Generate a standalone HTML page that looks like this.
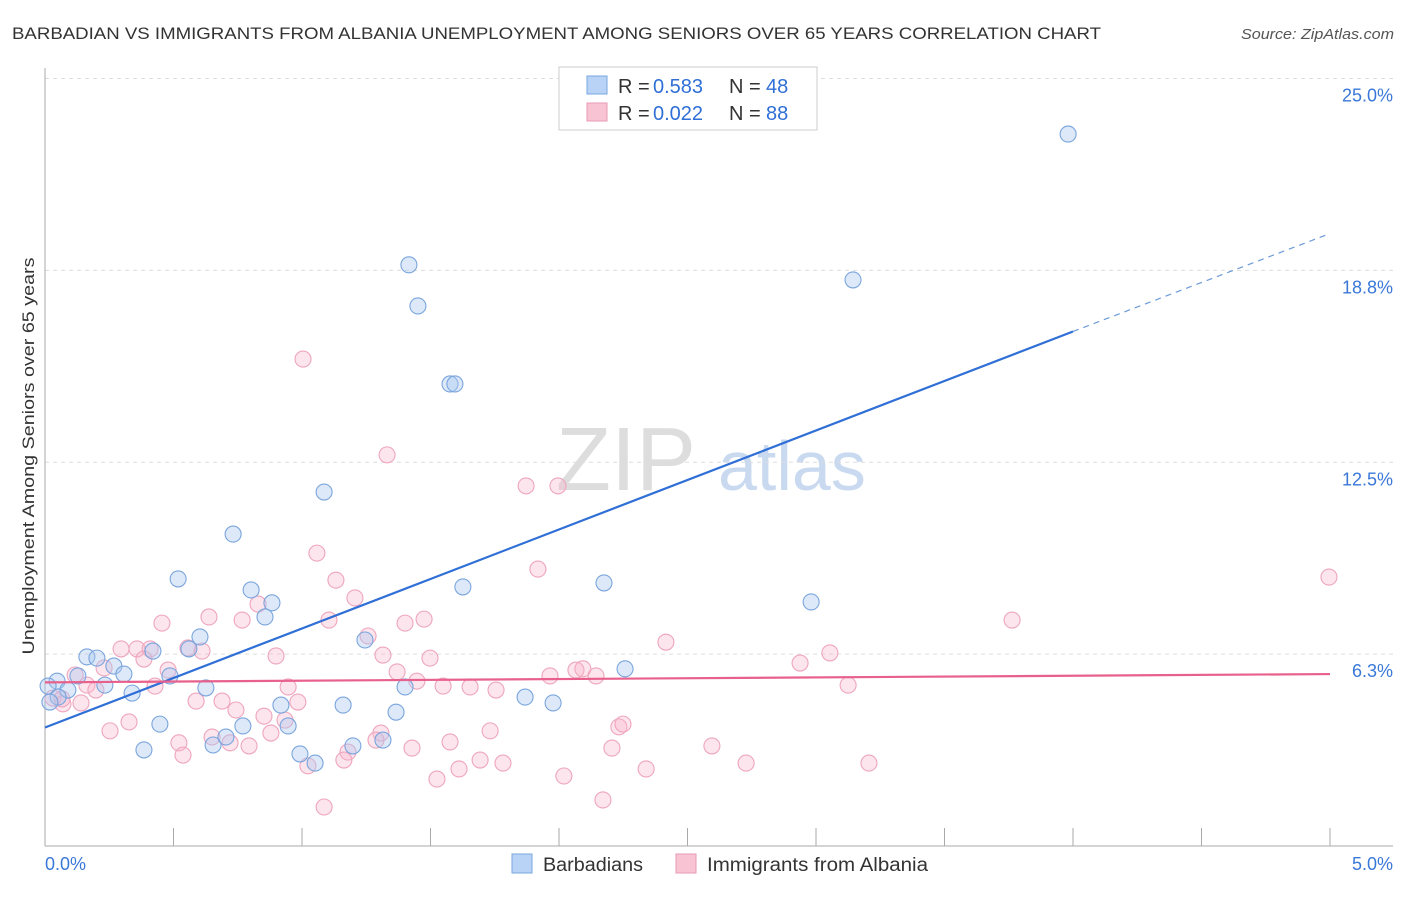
<!DOCTYPE html>
<html><head><meta charset="utf-8"><style>
body{margin:0;background:#fff;font-family:"Liberation Sans",sans-serif;}
svg text{font-family:"Liberation Sans",sans-serif;}
</style></head><body>
<svg width="1406" height="892" xmlns="http://www.w3.org/2000/svg">
<text x="12" y="39" font-size="17" fill="#333" textLength="1089" lengthAdjust="spacingAndGlyphs">BARBADIAN VS IMMIGRANTS FROM ALBANIA UNEMPLOYMENT AMONG SENIORS OVER 65 YEARS CORRELATION CHART</text>
<text x="1241" y="39" font-size="15" fill="#555" font-style="italic" textLength="153" lengthAdjust="spacingAndGlyphs">Source: ZipAtlas.com</text>
<g><text x="556" y="490" font-size="90" fill="#ddd" font-family="Liberation Serif,serif">ZIP</text><text x="718" y="490" font-size="70" fill="#c9daf0">atlas</text></g>
<g id="grid"></g>
<g id="axes"></g>
<g id="pts"></g>
<g id="lines"></g>
<text transform="translate(34,456) rotate(-90)" font-size="17" fill="#333" text-anchor="middle" textLength="397" lengthAdjust="spacingAndGlyphs">Unemployment Among Seniors over 65 years</text>
<g>
<rect x="559" y="67" width="258" height="63" fill="#fff" stroke="#ccc"/>
<rect x="587" y="76" width="20" height="18" fill="#b8d3f5" stroke="#7aa7e0"/>
<rect x="587" y="103" width="20" height="18" fill="#f8c4d4" stroke="#e99ab3"/>
<text x="618" y="93" font-size="20" fill="#333">R =</text><text x="653" y="93" font-size="20" fill="#2f6fd6">0.583</text>
<text x="729" y="93" font-size="20" fill="#333">N =</text><text x="766" y="93" font-size="20" fill="#2f6fd6">48</text>
<text x="618" y="120" font-size="20" fill="#333">R =</text><text x="653" y="120" font-size="20" fill="#2f6fd6">0.022</text>
<text x="729" y="120" font-size="20" fill="#333">N =</text><text x="766" y="120" font-size="20" fill="#2f6fd6">88</text>
</g>
<g>
<rect x="512" y="854" width="20" height="19" fill="#b8d3f5" stroke="#7aa7e0"/>
<text x="543" y="871" font-size="19" fill="#333" textLength="100" lengthAdjust="spacingAndGlyphs">Barbadians</text>
<rect x="676" y="854" width="20" height="19" fill="#f8c4d4" stroke="#e99ab3"/>
<text x="707" y="871" font-size="19" fill="#333" textLength="221" lengthAdjust="spacingAndGlyphs">Immigrants from Albania</text>
</g>
</svg>
<script>
const xTicks=["0.0%","5.0%"];
const yTickVals=[25,18.75,12.5,6.25];
const yTickLabels=["25.0%","18.8%","12.5%","6.3%"];
const bluePx=[[1068,134],[853,280],[409,265],[418,306],[450,384],[455,384],[324,492],[233,534],[178,579],[251,590],[272,603],[265,617],[463,587],[604,583],[811,602],[200,637],[189,649],[153,651],[365,640],[87,657],[97,658],[114,666],[124,674],[170,676],[78,676],[57,681],[48,686],[105,685],[68,690],[132,693],[206,688],[405,687],[58,697],[50,702],[160,724],[243,726],[288,726],[281,705],[343,705],[396,712],[525,697],[553,703],[625,669],[144,750],[213,745],[226,737],[300,754],[315,763],[353,746],[383,740]];
const pinkPx=[[303,359],[387,455],[526,486],[558,486],[317,553],[538,569],[336,580],[1329,577],[355,598],[209,617],[162,623],[242,620],[258,604],[329,620],[405,623],[424,619],[1012,620],[666,642],[368,636],[121,649],[137,649],[150,649],[144,659],[188,648],[202,651],[276,656],[383,655],[430,658],[830,653],[800,663],[104,668],[168,670],[75,675],[397,672],[417,681],[550,676],[576,670],[583,669],[596,676],[87,685],[96,690],[155,686],[288,687],[443,686],[470,687],[496,690],[848,685],[53,698],[63,704],[81,703],[196,701],[222,701],[298,702],[236,710],[264,716],[285,720],[129,722],[110,731],[381,733],[490,731],[619,727],[623,724],[212,737],[230,743],[249,746],[179,743],[183,755],[271,733],[450,742],[612,748],[712,746],[412,748],[376,740],[348,752],[344,760],[308,766],[480,760],[503,763],[459,769],[437,779],[564,776],[646,769],[746,763],[869,763],[603,800],[324,807],[62,699]];
const blueX=bluePx.map(p=>+((p[0]-45)/257).toFixed(3));
const blueY=bluePx.map(p=>+((846-p[1])/30.7).toFixed(2));
const pinkX=pinkPx.map(p=>+((p[0]-45)/257).toFixed(3));
const pinkY=pinkPx.map(p=>+((846-p[1])/30.7).toFixed(2));
const blueFit=[[0,3.86],[4,16.76],[5,19.95]];
const pinkFit=[[0,5.33],[5,5.6]];
const X=v=>45+v*257, Y=v=>846-v*30.7;
const NS="http://www.w3.org/2000/svg";
function mk(t,a,p){const e=document.createElementNS(NS,t);for(const k in a)e.setAttribute(k,a[k]);p.appendChild(e);return e;}
const grid=document.getElementById('grid'),axes=document.getElementById('axes'),pts=document.getElementById('pts'),lines=document.getElementById('lines');
yTickVals.forEach((v,i)=>{
 const l=mk('line',{x1:45,x2:1393,y1:Y(v),y2:Y(v),stroke:'#ddd','stroke-dasharray':'4,4'},grid);
 
 
 const t=mk('text',{x:1393,y:Y(v)+23,'font-size':18,fill:'#3a78d8','text-anchor':'end'},axes);
 t.textContent=yTickLabels[i];
 
 
});
mk('line',{x1:45,x2:45,y1:68,y2:846,stroke:'#aaa'},axes);
mk('line',{x1:45,x2:1393,y1:846,y2:846,stroke:'#aaa'},axes);
for(let i=0;i<=10;i++){const tk=mk('line',{x1:X(i/2),x2:X(i/2),y1:828,y2:846,stroke:'#aaa'},axes);}
const t0=mk('text',{x:45,y:870,'font-size':18,fill:'#3a78d8'},axes);t0.textContent=xTicks[0];


const t1=mk('text',{x:1393,y:870,'font-size':18,fill:'#3a78d8','text-anchor':'end'},axes);t1.textContent=xTicks[1];


pinkX.forEach((x,i)=>{const c=mk('circle',{cx:X(x),cy:Y(pinkY[i]),r:8,fill:'rgba(248,180,202,0.35)',stroke:'#eea5bd','stroke-width':1.1},pts);
 
 });
blueX.forEach((x,i)=>{const c=mk('circle',{cx:X(x),cy:Y(blueY[i]),r:8,fill:'rgba(170,200,240,0.4)',stroke:'#7aa5dd','stroke-width':1.1},pts);
 
 });
const b1=mk('line',{x1:X(blueFit[0][0]),y1:Y(blueFit[0][1]),x2:X(blueFit[1][0]),y2:Y(blueFit[1][1]),stroke:'#2f6fd6','stroke-width':2.2},lines);


const b2=mk('line',{x1:X(blueFit[1][0]),y1:Y(blueFit[1][1]),x2:X(blueFit[2][0]),y2:Y(blueFit[2][1]),stroke:'#6c9ad8','stroke-width':1.2,'stroke-dasharray':'6,5'},lines);


const p1=mk('line',{x1:X(pinkFit[0][0]),y1:Y(pinkFit[0][1]),x2:X(pinkFit[1][0]),y2:Y(pinkFit[1][1]),stroke:'#e8608c','stroke-width':2.2},lines);


</script>
</body></html>
